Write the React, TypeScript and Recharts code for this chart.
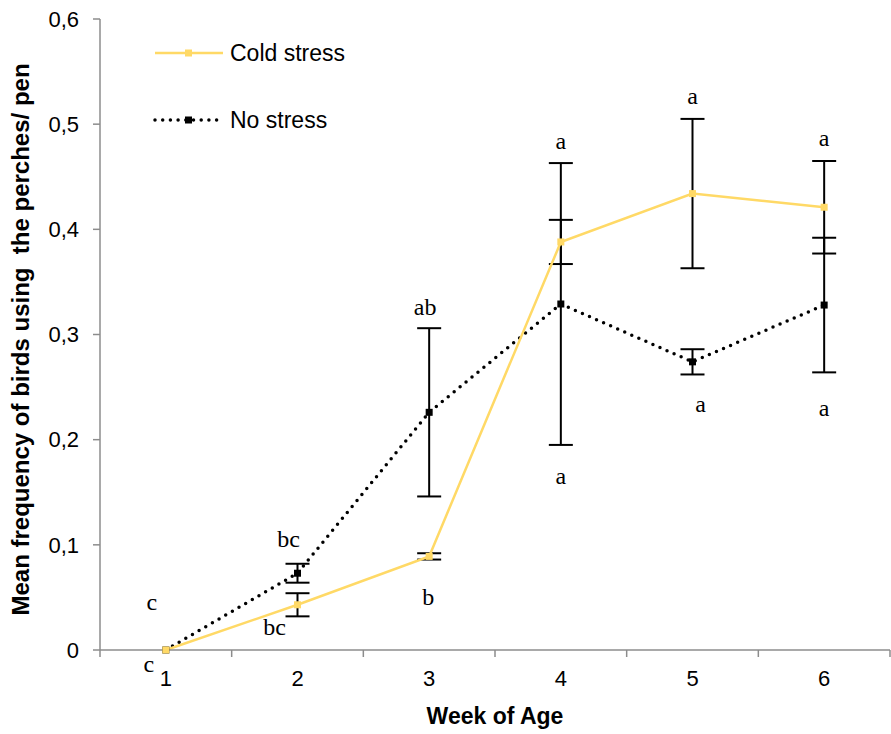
import { ComposedChart, Line, XAxis, YAxis, ErrorBar, ReferenceDot, Legend } from 'recharts';

const weeks = [1, 2, 3, 4, 5, 6];
const coldStress = [0, 0.043, 0.089, 0.388, 0.434, 0.421];
const coldStressSE = [null, 0.011, 0.003, 0.021, 0.071, 0.044];
const noStress = [0, 0.073, 0.226, 0.329, 0.274, 0.328];
const noStressSE = [null, 0.009, 0.08, 0.134, 0.012, 0.064];

// significance letters, and the value each one sits at
const upperLetters = ['c', 'bc', 'ab', 'a', 'a', 'a'];
const upperLetterAt = [0.045, 0.105, 0.325, 0.483, 0.526, 0.486];
const lowerLetters = ['c', 'bc', 'b', 'a', 'a', 'a'];
const lowerLetterAt = [-0.014, 0.021, 0.05, 0.165, 0.233, 0.229];

const yTicks = [0, 0.1, 0.2, 0.3, 0.4, 0.5, 0.6];
const xTicks = [0.5, 1, 1.5, 2, 2.5, 3, 3.5, 4, 4.5, 5, 5.5, 6, 6.5];

// small horizontal shifts so letters clear the lines, px
const upperNudge = [-14, -9, -4, 0, 0, 0];
const lowerNudge = [-17, -23, -1, 0, 8, 0];

const data = weeks.map((week, i) => ({
  week,
  cold: coldStress[i],
  coldErr: coldStressSE[i],
  none: noStress[i],
  noneErr: noStressSE[i],
}));

const YELLOW = '#FFD966';
const AXIS = '#8C8C8C';
const SANS = '"Liberation Sans", Arial, sans-serif';
const SERIF = '"Liberation Serif", "Times New Roman", serif';
const TICK_SIZE = 7;
const TICK_GAP = 13;
const Y_TITLE = 'Mean frequency of birds using \u00A0the perches/ pen';

const Square = (color: string) => (props: any) => {
  const { cx, cy } = props;
  if (cx == null || cy == null) return null;
  return <rect x={cx - 3.5} y={cy - 3.5} width={7} height={7} fill={color} />;
};

const XTick = (props: any) => {
  const { x, y, payload } = props;
  const v = payload.value;
  if (Number.isInteger(v)) {
    return (
      <text x={x} y={y + 16} textAnchor="middle" fontSize={22} fontFamily={SANS} fill="#000">
        {v}
      </text>
    );
  }
  return <line x1={x} x2={x} y1={y - TICK_GAP - TICK_SIZE} y2={y - TICK_GAP} stroke={AXIS} strokeWidth={1.5} />;
};

const YTitle = (props: any) => {
  const { x, y, height } = props.viewBox;
  const cx = x + 29;
  const cy = y + height / 2 + 5;
  return (
    <text
      x={cx}
      y={cy}
      transform={`rotate(-90 ${cx} ${cy})`}
      textAnchor="middle"
      fontSize={24}
      fontWeight="bold"
      fontFamily={SANS}
      fill="#000"
    >
      {Y_TITLE}
    </text>
  );
};

const letterShape = (text: string, dx: number) => (props: any) => (
  <text
    x={props.cx + dx}
    y={props.cy}
    dy="0.3em"
    textAnchor="middle"
    fontSize={24}
    fontFamily={SERIF}
    fill="#000"
  >
    {text}
  </text>
);

const LegendBox = () => (
  <div style={{ fontFamily: SANS, fontSize: 23, color: '#000' }}>
    <div style={{ display: 'flex', alignItems: 'center', height: 24 }}>
      <svg width={70} height={24}>
        <line x1={2} x2={70} y1={12} y2={12} stroke={YELLOW} strokeWidth={2.5} />
        <rect x={32} y={8.5} width={7} height={7} fill={YELLOW} />
      </svg>
      <span style={{ marginLeft: 7, lineHeight: '24px' }}>Cold stress</span>
    </div>
    <div style={{ display: 'flex', alignItems: 'center', height: 24, marginTop: 43 }}>
      <svg width={70} height={24}>
        <line x1={2} x2={70} y1={12} y2={12} stroke="#000" strokeWidth={3.5} strokeDasharray="0 7.7" strokeLinecap="round" />
        <rect x={32} y={8.5} width={7} height={7} fill="#000" />
      </svg>
      <span style={{ marginLeft: 7, lineHeight: '24px' }}>No stress</span>
    </div>
  </div>
);

export default function App() {
  return (
    <div style={{ position: 'absolute', left: 0, top: 0 }}>
      <ComposedChart width={891} height={734} data={data} margin={{ top: 19, right: 1, bottom: 0, left: 0 }}>
        <XAxis
          dataKey="week"
          type="number"
          domain={[0.5, 6.5]}
          ticks={xTicks}
          interval={0}
          tick={<XTick />}
          tickLine={false}
          tickSize={TICK_SIZE}
          tickMargin={TICK_GAP}
          height={84}
          stroke={AXIS}
          strokeWidth={1.5}
          label={{
            value: 'Week of Age',
            position: 'insideBottom',
            offset: 10,
            style: { fontFamily: SANS, fontSize: 23, fontWeight: 'bold', fill: '#000' },
          }}
        />
        <YAxis
          type="number"
          domain={[0, 0.6]}
          ticks={yTicks}
          width={100}
          tickSize={TICK_SIZE}
          tickMargin={14}
          tickFormatter={(v: number) => (v === 0 ? '0' : v.toFixed(1).replace('.', ','))}
          tick={{ fontFamily: SANS, fontSize: 22, fill: '#000' }}
          stroke={AXIS}
          strokeWidth={1.5}
          label={{ content: <YTitle /> }}
        />
        <Legend
          layout="horizontal"
          align="center"
          verticalAlign="middle"
          content={() => <LegendBox />}
          wrapperStyle={{ left: 153, top: 41, width: 260, height: 100 }}
        />
        <Line
          dataKey="none"
          stroke="#000"
          strokeWidth={3.5}
          strokeDasharray="0 7.7"
          strokeLinecap="round"
          dot={Square('#000')}
          activeDot={false}
          isAnimationActive={false}
        >
          <ErrorBar dataKey="noneErr" width={12} stroke="#000" strokeWidth={2} direction="y" />
        </Line>
        <Line
          dataKey="cold"
          stroke={YELLOW}
          strokeWidth={2.5}
          dot={Square(YELLOW)}
          activeDot={false}
          isAnimationActive={false}
        >
          <ErrorBar dataKey="coldErr" width={12} stroke="#000" strokeWidth={2} direction="y" />
        </Line>
        {weeks.map((w, i) => (
          <ReferenceDot
            key={`u${w}`}
            x={w}
            y={upperLetterAt[i]}
            r={0}
            ifOverflow="visible"
            shape={letterShape(upperLetters[i], upperNudge[i])}
          />
        ))}
        {weeks.map((w, i) => (
          <ReferenceDot
            key={`l${w}`}
            x={w}
            y={lowerLetterAt[i]}
            r={0}
            ifOverflow="visible"
            shape={letterShape(lowerLetters[i], lowerNudge[i])}
          />
        ))}
      </ComposedChart>
    </div>
  );
}
